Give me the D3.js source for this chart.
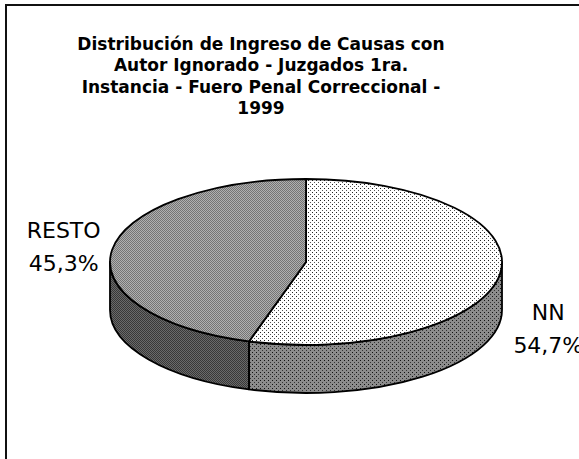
<!DOCTYPE html>
<html>
<head>
<meta charset="utf-8">
<script src="https://cdn.jsdelivr.net/npm/d3@7"></script>
<style>
  html, body { margin: 0; padding: 0; background: #fff; }
  svg { display: block; }
</style>
</head>
<body>
<svg id="chart" width="579" height="459"></svg>
<script>
// chart data
let TITLE_LINES = [
    'Distribución de Ingreso de Causas con',
    'Autor Ignorado - Juzgados 1ra.',
    'Instancia - Fuero Penal Correccional -',
    '1999'
];
let CATEGORIES = ['NN', 'RESTO'];
let VALUES = [54.7, 45.3];
let VALUE_LABELS = ['54,7%', '45,3%'];

// pie geometry (3d ellipse)
let CX = 306, CY = 262, RX = 196, RY = 83, DEPTH = 48;

let svg = d3.select('#chart');
let defs = svg.append('defs');

// dotted white for NN top
let p1 = defs.append('pattern').attr('id', 'nnTop')
    .attr('width', 4).attr('height', 4).attr('patternUnits', 'userSpaceOnUse');
p1.append('rect').attr('width', 4).attr('height', 4).attr('fill', '#fff');
p1.append('rect').attr('x', 0).attr('y', 0).attr('width', 1).attr('height', 1).attr('fill', '#222');
p1.append('rect').attr('x', 2).attr('y', 2).attr('width', 1).attr('height', 1).attr('fill', '#555');

// dotted grey for NN side
let p2 = defs.append('pattern').attr('id', 'nnSide')
    .attr('width', 4).attr('height', 4).attr('patternUnits', 'userSpaceOnUse');
p2.append('rect').attr('width', 4).attr('height', 4).attr('fill', '#8c8c8c');
p2.append('rect').attr('x', 0).attr('y', 0).attr('width', 1).attr('height', 1).attr('fill', '#111');
p2.append('rect').attr('x', 2).attr('y', 2).attr('width', 1).attr('height', 1).attr('fill', '#333');

// checkered grey for RESTO top
let p3 = defs.append('pattern').attr('id', 'restoTop')
    .attr('width', 2).attr('height', 2).attr('patternUnits', 'userSpaceOnUse');
p3.append('rect').attr('width', 2).attr('height', 2).attr('fill', '#b0b0b0');
p3.append('rect').attr('width', 1).attr('height', 1).attr('fill', '#747474');
p3.append('rect').attr('x', 1).attr('y', 1).attr('width', 1).attr('height', 1).attr('fill', '#747474');

// dark checkered for RESTO side
let p4 = defs.append('pattern').attr('id', 'restoSide')
    .attr('width', 2).attr('height', 2).attr('patternUnits', 'userSpaceOnUse');
p4.append('rect').attr('width', 2).attr('height', 2).attr('fill', '#6a6a6a');
p4.append('rect').attr('width', 1).attr('height', 1).attr('fill', '#383838');
p4.append('rect').attr('x', 1).attr('y', 1).attr('width', 1).attr('height', 1).attr('fill', '#383838');

let TOP_FILL = {NN: 'url(#nnTop)', RESTO: 'url(#restoTop)'};
let SIDE_FILL = {NN: 'url(#nnSide)', RESTO: 'url(#restoSide)'};

// chart area frame (only top and left edges fall inside the window)
svg.append('rect')
    .attr('x', 6).attr('y', 5)
    .attr('width', 700).attr('height', 600)
    .attr('fill', 'none')
    .attr('stroke', '#111')
    .attr('stroke-width', 2);

// title
svg.append('text')
    .attr('text-anchor', 'middle')
    .attr('font-family', 'DejaVu Sans, Verdana, sans-serif')
    .attr('font-weight', 'bold')
    .attr('font-size', 17)
    .selectAll('tspan').data(TITLE_LINES).enter().append('tspan')
    .attr('x', 261)
    .attr('y', (d, i) => 50 + i * 21.3)
    .text(d => d);

let data = CATEGORIES.map((c, i) => ({name: c, value: VALUES[i], label: VALUE_LABELS[i]}));
let pie = d3.pie().sort(null).value(d => d.value);
let arcs = pie(data);

// angle measured clockwise from 12 o'clock
let px = a => CX + RX * Math.sin(a);
let py = a => CY - RY * Math.cos(a);

function topPath(a0, a1) {
    let large = (a1 - a0) > Math.PI ? 1 : 0;
    return `M${CX},${CY}L${px(a0)},${py(a0)}A${RX},${RY} 0 ${large} 1 ${px(a1)},${py(a1)}Z`;
}

function sidePath(a0, a1) {
    // only the front half of the rim is visible
    let s = Math.max(a0, Math.PI / 2), e = Math.min(a1, Math.PI * 1.5);
    if (e <= s) return null;
    let large = (e - s) > Math.PI ? 1 : 0;
    return `M${px(s)},${py(s)}A${RX},${RY} 0 ${large} 1 ${px(e)},${py(e)}` +
        `L${px(e)},${py(e) + DEPTH}A${RX},${RY} 0 ${large} 0 ${px(s)},${py(s) + DEPTH}Z`;
}

// sides first, then tops
svg.selectAll('path.side').data(arcs.filter(d => sidePath(d.startAngle, d.endAngle)))
    .enter().append('path')
    .attr('class', 'side')
    .attr('d', d => sidePath(d.startAngle, d.endAngle))
    .attr('fill', d => SIDE_FILL[d.data.name])
    .attr('stroke', '#000')
    .attr('stroke-width', 1.8)
    .attr('stroke-linejoin', 'round');

svg.selectAll('path.top').data(arcs).enter().append('path')
    .attr('class', 'top')
    .attr('d', d => topPath(d.startAngle, d.endAngle))
    .attr('fill', d => TOP_FILL[d.data.name])
    .attr('stroke', '#000')
    .attr('stroke-width', 1.8)
    .attr('stroke-linejoin', 'round');

// labels outside the pie
let labels = svg.selectAll('text.lbl').data(arcs).enter().append('text')
    .attr('class', 'lbl')
    .attr('text-anchor', 'middle')
    .attr('font-family', 'DejaVu Sans, Verdana, sans-serif')
    .attr('font-size', 22)
    .attr('fill', '#000');

labels.each(function (d) {
    let mid = (d.startAngle + d.endAngle) / 2;
    let lx = CX + RX * 1.25 * Math.sin(mid);
    let ly = CY - RY * Math.cos(mid) + (Math.cos(mid) < 0 ? DEPTH + 6 : -4);
    let t = d3.select(this);
    t.append('tspan').attr('x', lx).attr('y', ly - 8).text(d.data.name);
    t.append('tspan').attr('x', lx).attr('y', ly + 25).text(d.data.label);
});
</script>
</body>
</html>
